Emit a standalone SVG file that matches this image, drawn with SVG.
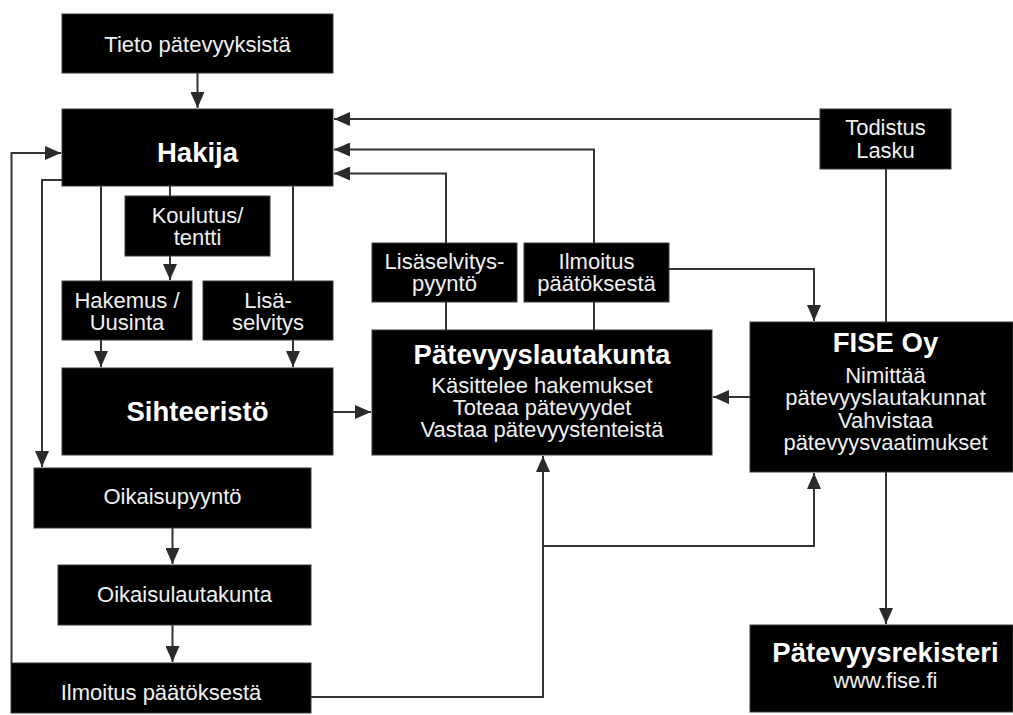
<svg xmlns="http://www.w3.org/2000/svg" width="1013" height="715" viewBox="0 0 1013 715">
<defs>
<style>
.box{fill:#000;stroke:#3a3a3a;stroke-width:1}
.t{font-family:"Liberation Sans",Arial,Helvetica,sans-serif;font-size:22px;fill:#f0f0f0;text-anchor:middle}
.b{font-family:"Liberation Sans",Arial,Helvetica,sans-serif;font-size:27.5px;font-weight:bold;fill:#fff;text-anchor:middle}
.c{fill:none;stroke:#333;stroke-width:2}
.a{marker-end:url(#arr)}
</style>
<marker id="arr" viewBox="0 0 16 14" refX="16" refY="7" markerWidth="16" markerHeight="14" markerUnits="userSpaceOnUse" orient="auto">
<path d="M0,0 L16,7 L0,14 z" fill="#2a2a2a"/>
</marker>
</defs>
<rect width="1013" height="715" fill="#fff"/>
<g id="connectors">
<path class="c a" d="M197.5,73 V108"/>
<path class="c a" d="M11.5,663 V153 H61"/>
<path class="c a" d="M62,180 H42 V467"/>
<path class="c" d="M101,186 V281"/>
<path class="c a" d="M101,340 V367"/>
<path class="c" d="M170,186 V196"/>
<path class="c a" d="M170,256 V280"/>
<path class="c" d="M293,186 V281"/>
<path class="c a" d="M293,340 V367"/>
<path class="c a" d="M333,412 H371"/>
<path class="c a" d="M172.5,528 V564"/>
<path class="c a" d="M172.5,625 V662"/>
<path class="c a" d="M820,119 H334"/>
<path class="c a" d="M594,243 V149.5 H334"/>
<path class="c a" d="M446,243 V173.5 H334"/>
<path class="c" d="M446,302 V330"/>
<path class="c" d="M594,302 V330"/>
<path class="c a" d="M669,269 H814 V321"/>
<path class="c" d="M886,169 V322"/>
<path class="c a" d="M750,397 H713"/>
<path class="c a" d="M311,697 H543 V456"/>
<path class="c a" d="M543,546 H814 V473"/>
<path class="c a" d="M886,472 V624"/>
</g>
<g id="tieto"><rect class="box" x="62" y="14" width="271" height="59"/><text class="t" x="197.5" y="52">Tieto pätevyyksistä</text></g>
<g id="hakija"><rect class="box" x="62" y="109" width="271" height="77"/><text class="b" x="197.5" y="162">Hakija</text></g>
<g id="koulutus"><rect class="box" x="125" y="196" width="145" height="60"/><text class="t" x="197.5" y="223">Koulutus/</text><text class="t" x="197.5" y="245">tentti</text></g>
<g id="hakemus"><rect class="box" x="62" y="281" width="130" height="59"/><text class="t" x="127" y="307.5">Hakemus /</text><text class="t" x="127" y="329.5">Uusinta</text></g>
<g id="lisaselvitys"><rect class="box" x="203" y="281" width="130" height="59"/><text class="t" x="268" y="307.5">Lisä-</text><text class="t" x="268" y="329.5">selvitys</text></g>
<g id="sihteeristo"><rect class="box" x="62" y="368" width="271" height="87"/><text class="b" x="197.5" y="421">Sihteeristö</text></g>
<g id="oikaisupyynto"><rect class="box" x="34" y="468" width="277" height="60"/><text class="t" x="172.5" y="504">Oikaisupyyntö</text></g>
<g id="oikaisulautakunta"><rect class="box" x="58" y="565" width="253" height="60"/><text class="t" x="184.5" y="602">Oikaisulautakunta</text></g>
<g id="ilmoitus-oikaisu"><rect class="box" x="11" y="663" width="300" height="50"/><text class="t" x="161" y="700">Ilmoitus päätöksestä</text></g>
<g id="lisaselvityspyynto"><rect class="box" x="372" y="243" width="145" height="59"/><text class="t" x="444.5" y="268.5">Lisäselvitys-</text><text class="t" x="444.5" y="290.5">pyyntö</text></g>
<g id="ilmoitus-paatoksesta"><rect class="box" x="524" y="243" width="145" height="59"/><text class="t" x="596.5" y="268.5">Ilmoitus</text><text class="t" x="596.5" y="290.5">päätöksestä</text></g>
<g id="patevyyslautakunta"><rect class="box" x="372" y="330" width="340" height="125"/><text class="b" x="542" y="364">Pätevyyslautakunta</text><text class="t" x="542" y="393">Käsittelee hakemukset</text><text class="t" x="542" y="415">Toteaa pätevyydet</text><text class="t" x="542" y="437">Vastaa pätevyystenteistä</text></g>
<g id="todistus"><rect class="box" x="820" y="109" width="131" height="60"/><text class="t" x="885.5" y="135">Todistus</text><text class="t" x="885.5" y="158">Lasku</text></g>
<g id="fise"><rect class="box" x="750" y="322" width="263" height="150"/><text class="b" x="885.5" y="352">FISE Oy</text><text class="t" x="885.5" y="383">Nimittää</text><text class="t" x="885.5" y="405">pätevyyslautakunnat</text><text class="t" x="885.5" y="428">Vahvistaa</text><text class="t" x="885.5" y="450">pätevyysvaatimukset</text></g>
<g id="patevyysrekisteri"><rect class="box" x="750" y="625" width="263" height="87"/><text class="b" x="885.5" y="662">Pätevyysrekisteri</text><text class="t" x="885.5" y="688">www.fise.fi</text></g>
</svg>
